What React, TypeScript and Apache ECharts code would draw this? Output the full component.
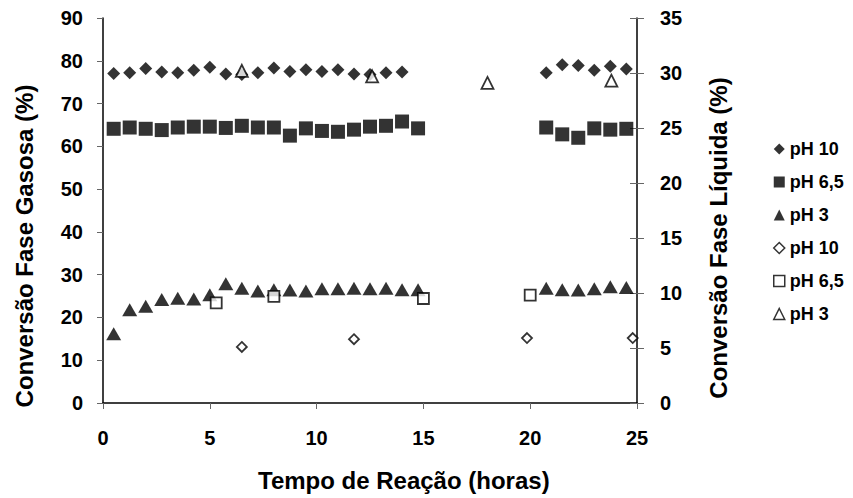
import React, { useEffect, useRef } from "react";
import * as echarts from "echarts";

// Reaction time (hours) for each measured point
const timesGasPh10 = [0.5, 1.25, 2, 2.75, 3.5, 4.25, 5, 5.75, 6.5, 7.25, 8, 8.75, 9.5, 10.25, 11, 11.75, 12.5, 13.25, 14, 20.75, 21.5, 22.25, 23, 23.75, 24.5];
const timesGasPh65 = [0.5, 1.25, 2, 2.75, 3.5, 4.25, 5, 5.75, 6.5, 7.25, 8, 8.75, 9.5, 10.25, 11, 11.75, 12.5, 13.25, 14, 14.75, 20.75, 21.5, 22.25, 23, 23.75, 24.5];
const timesGasPh3 = [0.5, 1.25, 2, 2.75, 3.5, 4.25, 5, 5.75, 6.5, 7.25, 8, 8.75, 9.5, 10.25, 11, 11.75, 12.5, 13.25, 14, 14.75, 20.75, 21.5, 22.25, 23, 23.75, 24.5];

// Gas-phase conversion (%), left axis
const gasPh10 = [77.0, 77.2, 78.2, 77.4, 77.2, 77.8, 78.5, 76.9, 76.8, 77.2, 78.3, 77.5, 77.9, 77.5, 77.9, 76.9, 76.8, 77.2, 77.4, 77.2, 79.1, 78.9, 77.8, 78.7, 78.1];
const gasPh65 = [64.1, 64.4, 64.1, 63.8, 64.4, 64.6, 64.6, 64.3, 64.8, 64.4, 64.4, 62.5, 64.2, 63.6, 63.4, 63.9, 64.6, 64.8, 65.8, 64.2, 64.4, 62.8, 62.0, 64.2, 63.9, 64.1];
const gasPh3 = [16.2, 21.8, 22.6, 24.2, 24.5, 24.3, 25.3, 27.9, 26.8, 26.2, 26.5, 26.4, 26.2, 26.7, 26.7, 26.8, 26.7, 26.8, 26.5, 26.5, 26.8, 26.5, 26.4, 26.7, 27.2, 27.0];

// Liquid-phase conversion (%), right axis
const timesLiqPh10 = [6.5, 11.75, 19.85, 24.8];
const liqPh10 = [5.1, 5.8, 5.9, 5.9];
const timesLiqPh65 = [5.3, 8.0, 15.0, 20.0];
const liqPh65 = [9.1, 9.7, 9.5, 9.8];
const timesLiqPh3 = [6.5, 12.6, 18.0, 23.8];
const liqPh3 = [30.2, 29.7, 29.1, 29.3];

const legendLabels: Record<string, string> = {
  gas10: "pH 10",
  gas65: "pH 6,5",
  gas3: "pH 3",
  liq10: "pH 10",
  liq65: "pH 6,5",
  liq3: "pH 3",
};

const xTitle = "Tempo de Reação (horas)";
const yLeftTitle = "Conversão Fase Gasosa (%)";
const yRightTitle = "Conversão Fase Líquida (%)";

const FONT = '"Liberation Sans", Arial, sans-serif';

const zip = (xs: number[], ys: number[]) => xs.map((x, i) => [x, ys[i]]);

const filled = { color: "#000" };
const hollow = { color: "#fff", borderColor: "#000", borderWidth: 1.8 };

export default function App() {
  const ref = useRef<HTMLDivElement>(null);

  useEffect(() => {
    if (!ref.current) return;
    const chart = echarts.init(ref.current, undefined, { renderer: "svg" });

    const labelStyle = { fontSize: 20, fontWeight: "bold" as const, color: "#000", fontFamily: FONT };

    chart.setOption({
      animation: false,
      backgroundColor: "#fff",
      grid: { left: 103, top: 18, width: 534, height: 385 },
      xAxis: {
        type: "value",
        min: 0,
        max: 25,
        interval: 5,
        axisLine: { lineStyle: { color: "#000", width: 1.5 } },
        axisTick: { show: true, length: 6, lineStyle: { color: "#666", width: 1 } },
        axisLabel: { ...labelStyle, margin: 25 },
        splitLine: { show: false },
      },
      yAxis: [
        {
          type: "value",
          position: "left",
          min: 0,
          max: 90,
          interval: 10,
          axisLine: { show: true, lineStyle: { color: "#000", width: 1.5 } },
          axisTick: { show: true, length: 6, lineStyle: { color: "#666", width: 1 } },
          axisLabel: { ...labelStyle, margin: 20 },
          splitLine: { show: false },
        },
        {
          type: "value",
          position: "right",
          min: 0,
          max: 35,
          interval: 5,
          axisLine: { show: true, lineStyle: { color: "#000", width: 1.5 } },
          axisTick: { show: true, length: 7, lineStyle: { color: "#666", width: 1 } },
          axisLabel: { ...labelStyle, margin: 23 },
          splitLine: { show: false },
        },
        {
          // inner half of the crossing ticks on the right axis
          type: "value",
          position: "right",
          min: 0,
          max: 35,
          interval: 5,
          axisLine: { show: false },
          axisTick: { show: true, inside: true, length: 7, lineStyle: { color: "#666", width: 1 } },
          axisLabel: { show: false },
          splitLine: { show: false },
        },
      ],
      legend: {
        orient: "vertical",
        left: 768,
        top: 134,
        itemWidth: 11,
        itemHeight: 11,
        itemGap: 13,
        selectedMode: false,
        textStyle: { ...labelStyle, fontSize: 18, lineHeight: 20 },
        formatter: (name: string) => legendLabels[name],
        data: [
          { name: "gas10", icon: "diamond", itemStyle: filled },
          { name: "gas65", icon: "rect", itemStyle: filled },
          { name: "gas3", icon: "triangle", itemStyle: filled },
          { name: "liq10", icon: "diamond", itemStyle: { ...hollow, borderWidth: 1.5 } },
          { name: "liq65", icon: "rect", itemStyle: { ...hollow, borderWidth: 1.5 } },
          { name: "liq3", icon: "triangle", itemStyle: { ...hollow, borderWidth: 1.5 } },
        ],
      },
      series: [
        { name: "gas10", type: "scatter", yAxisIndex: 0, symbol: "diamond", symbolSize: 13, itemStyle: filled, data: zip(timesGasPh10, gasPh10) },
        { name: "gas65", type: "scatter", yAxisIndex: 0, symbol: "rect", symbolSize: 14, itemStyle: filled, data: zip(timesGasPh65, gasPh65) },
        { name: "gas3", type: "scatter", yAxisIndex: 0, symbol: "triangle", symbolSize: [15, 13], itemStyle: filled, data: zip(timesGasPh3, gasPh3) },
        { name: "liq10", type: "scatter", yAxisIndex: 1, symbol: "diamond", symbolSize: 10, itemStyle: hollow, data: zip(timesLiqPh10, liqPh10) },
        { name: "liq65", type: "scatter", yAxisIndex: 1, symbol: "rect", symbolSize: 11, itemStyle: hollow, data: zip(timesLiqPh65, liqPh65) },
        { name: "liq3", type: "scatter", yAxisIndex: 1, symbol: "triangle", symbolSize: [12, 12], itemStyle: hollow, data: zip(timesLiqPh3, liqPh3) },
      ],
      graphic: [
        {
          type: "text",
          x: 24.5,
          y: 246,
          rotation: Math.PI / 2,
          style: { text: yLeftTitle, font: `bold 24px ${FONT}`, fill: "#000", textAlign: "center", textVerticalAlign: "middle", align: "center", verticalAlign: "middle" },
        },
        {
          type: "text",
          x: 718.5,
          y: 238,
          rotation: Math.PI / 2,
          style: { text: yRightTitle, font: `bold 24px ${FONT}`, fill: "#000", textAlign: "center", textVerticalAlign: "middle", align: "center", verticalAlign: "middle" },
        },
        {
          type: "text",
          x: 258,
          y: 480,
          style: { text: xTitle, font: `bold 24px ${FONT}`, fill: "#000", textAlign: "left", textVerticalAlign: "middle", align: "left", verticalAlign: "middle" },
        },
      ],
    });

    return () => chart.dispose();
  }, []);

  return <div ref={ref} style={{ position: "absolute", left: 0, top: 0, width: 853, height: 498 }} />;
}
